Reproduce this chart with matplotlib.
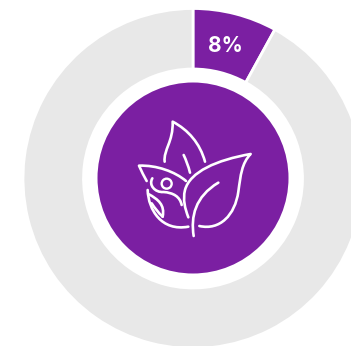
import matplotlib
matplotlib.use('Agg')
import matplotlib.pyplot as plt
from matplotlib.patches import Circle, PathPatch
from matplotlib.path import Path

values = [8, 92]
ring_colors = ['#7b1fa2', '#e8e8e8']
label = '8%'

W, H = 351, 346
PURPLE = '#7b1fa2'


def up(y):
    return H - y


# icon strokes, in units of a 450 box placed at (120, 100)
def to_px(p):
    return (120 + p[0] / 3, up(100 + p[1] / 3))


def stroke(ax, start, *curves):
    verts = [to_px(start)]
    codes = [Path.MOVETO]
    for c in curves:
        verts += [to_px(q) for q in c]
        codes += [Path.CURVE4] * 3
    ax.add_patch(PathPatch(Path(verts, codes), fc='none', ec='white', lw=1.9,
                           capstyle='round', joinstyle='round', zorder=5))


fig = plt.figure(figsize=(W / 100, H / 100), dpi=100)
ax = fig.add_axes([0, 0, 1, 1])

ax.pie(values, colors=ring_colors, startangle=90, counterclock=False,
       center=(193, up(178.5)), radius=170,
       wedgeprops=dict(width=60.5, edgecolor='white', linewidth=2.0))
ax.add_patch(Circle((193, up(178)), 95.5, fc=PURPLE, ec='none', zorder=3))

ax.text(225.5, up(46), label, color='white', fontsize=15, fontweight='bold',
        family='Inter', ha='center', va='center', zorder=5)

# front leaf and vein
stroke(ax, (205, 352),
       ((195, 325), (188, 300), (195, 270)),
       ((210, 215), (290, 180), (392, 162)),
       ((365, 190), (362, 225), (355, 275)),
       ((345, 345), (300, 392), (238, 378)))
stroke(ax, (221, 408),
       ((212, 350), (225, 290), (295, 248)))

# back leaf and vein
stroke(ax, (134, 185),
       ((130, 150), (160, 125), (158, 65)),
       ((205, 90), (240, 130), (255, 185)))
stroke(ax, (191, 165), ((198, 180), (205, 198), (210, 218)))

# left leaf with figure
stroke(ax, (198, 243),
       ((165, 215), (110, 195), (57, 197)),
       ((65, 215), (72, 228), (80, 243)))
stroke(ax, (83, 270),
       ((85, 330), (125, 395), (205, 380)))
stroke(ax, (97, 235),
       ((85, 255), (105, 278), (130, 276)),
       ((160, 278), (180, 290), (185, 315)))
stroke(ax, (85, 282),
       ((115, 298), (135, 315), (128, 350)))
stroke(ax, (95, 310), ((105, 325), (115, 338), (128, 350)))
ax.add_patch(Circle(to_px((140, 251)), 5, fc='none', ec='white', lw=1.7, zorder=5))

ax.set_xlim(0, W)
ax.set_ylim(0, H)
ax.set_aspect('equal')
ax.axis('off')

fig.savefig('out.png', dpi=100, facecolor='white')
